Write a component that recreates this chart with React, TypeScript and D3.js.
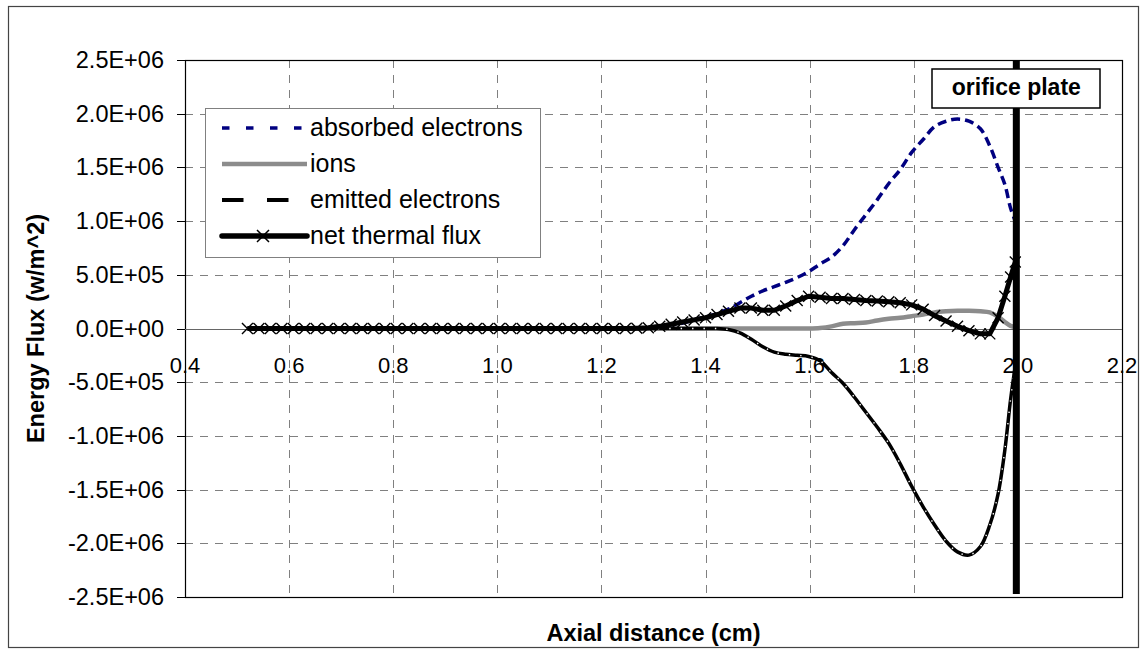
import React, { useRef, useEffect } from 'react';
import * as d3 from 'd3';

// axial positions (cm) of the computed points
const xCm = [
  0.520, 0.542, 0.564, 0.586, 0.608, 0.630, 0.652, 0.674, 0.696, 0.718,
  0.740, 0.762, 0.784, 0.806, 0.828, 0.850, 0.872, 0.894, 0.916, 0.938,
  0.960, 0.982, 1.004, 1.026, 1.048, 1.070, 1.092, 1.114, 1.136, 1.158,
  1.180, 1.202, 1.224, 1.246, 1.268, 1.290, 1.312, 1.334, 1.356, 1.378,
  1.400, 1.422, 1.444, 1.466, 1.488, 1.510, 1.532, 1.554, 1.576, 1.598,
  1.620, 1.642, 1.664, 1.686, 1.708, 1.730, 1.752, 1.774, 1.796, 1.818,
  1.840, 1.862, 1.884, 1.906, 1.928, 1.946, 1.962, 1.975, 1.986, 1.995,
];

// fluxes in units of 1E+06 w/m^2
const absorbedElectrons = [
  0, 0, 0, 0, 0, 0, 0, 0, 0, 0,
  0, 0, 0, 0, 0, 0, 0, 0, 0, 0,
  0, 0, 0, 0, 0, 0, 0, 0, 0, 0,
  0, 0, 0, 0, 0, 0, 0.01, 0.03, 0.05, 0.08,
  0.11, 0.14, 0.18, 0.24, 0.30, 0.35, 0.39, 0.43, 0.475, 0.53,
  0.60, 0.665, 0.77, 0.92, 1.06, 1.20, 1.35, 1.48, 1.64, 1.76,
  1.88, 1.93, 1.95, 1.93, 1.86, 1.70, 1.50, 1.34, 1.12, 1.0,
];

const ions = [
  0, 0, 0, 0, 0, 0, 0, 0, 0, 0,
  0, 0, 0, 0, 0, 0, 0, 0, 0, 0,
  0, 0, 0, 0, 0, 0, 0, 0, 0, 0,
  0, 0, 0, 0, 0, 0, 0, 0, 0, 0,
  0, 0, 0, 0, 0, 0, 0, 0, 0, 0,
  0.005, 0.02, 0.045, 0.05, 0.055, 0.075, 0.09, 0.10, 0.115, 0.13,
  0.15, 0.16, 0.165, 0.165, 0.16, 0.15, 0.11, 0.06, 0.025, 0.015,
];

const emittedElectrons = [
  0, 0, 0, 0, 0, 0, 0, 0, 0, 0,
  0, 0, 0, 0, 0, 0, 0, 0, 0, 0,
  0, 0, 0, 0, 0, 0, 0, 0, 0, 0,
  0, 0, 0, 0, 0, 0, 0, 0, 0, 0,
  0, 0, -0.01, -0.04, -0.10, -0.17, -0.22, -0.24, -0.25, -0.26,
  -0.30, -0.41, -0.51, -0.64, -0.78, -0.92, -1.07, -1.26, -1.47, -1.66,
  -1.83, -1.98, -2.08, -2.11, -2.03, -1.83, -1.54, -1.13, -0.66, -0.35,
];

const netThermalFlux = [
  0, 0, 0, 0, 0, 0, 0, 0, 0, 0,
  0, 0, 0, 0, 0, 0, 0, 0, 0, 0,
  0, 0, 0, 0, 0, 0, 0, 0, 0, 0,
  0, 0, 0, 0, 0.003, 0.008, 0.02, 0.04, 0.06, 0.08,
  0.10, 0.13, 0.16, 0.19, 0.19, 0.17, 0.17, 0.21, 0.26, 0.30,
  0.29, 0.28, 0.28, 0.27, 0.26, 0.255, 0.25, 0.24, 0.22, 0.18,
  0.12, 0.07, 0.02, -0.02, -0.05, -0.05, 0.10, 0.30, 0.48, 0.62,
];

const xTicks = [0.4, 0.6, 0.8, 1.0, 1.2, 1.4, 1.6, 1.8, 2.0, 2.2];
const xTickLabels = ['0.4', '0.6', '0.8', '1.0', '1.2', '1.4', '1.6', '1.8', '2.0', '2.2'];
const yTicks = [2.5, 2.0, 1.5, 1.0, 0.5, 0, -0.5, -1.0, -1.5, -2.0, -2.5];
const yTickLabels = [
  '2.5E+06', '2.0E+06', '1.5E+06', '1.0E+06', '5.0E+05', '0.0E+00',
  '-5.0E+05', '-1.0E+06', '-1.5E+06', '-2.0E+06', '-2.5E+06',
];
const legendNames = ['absorbed electrons', 'ions', 'emitted electrons', 'net thermal flux'];
const orificeX = 1.997;
const orificeLabel = 'orifice plate';

const FONT = '"Liberation Sans", Arial, sans-serif';

function EnergyFluxChart() {
  const chartRef = useRef<HTMLDivElement>(null);

  useEffect(() => {
    const width = 1143;
    const height = 651;
    const left = 185, right = 1122, top = 60, bottom = 597;

    const x = d3.scaleLinear().domain([0.4, 2.2]).range([left, right]);
    const y = d3.scaleLinear().domain([-2.5, 2.5]).range([bottom, top]);

    const svg = d3.select(chartRef.current)
      .append('svg')
      .attr('width', width)
      .attr('height', height)
      .style('display', 'block')
      .style('font-family', FONT);

    svg.append('rect')
      .attr('width', width).attr('height', height).attr('fill', '#fff');

    // outer chart frame
    svg.append('rect')
      .attr('x', 8.5).attr('y', 6.5)
      .attr('width', 1130).attr('height', 641)
      .attr('fill', 'none').attr('stroke', '#444').attr('stroke-width', 1.2);

    // grid
    svg.append('g').selectAll('line')
      .data(yTicks.filter((d) => d !== 2.5 && d !== -2.5 && d !== 0))
      .enter().append('line')
      .attr('x1', left).attr('x2', right)
      .attr('y1', (d) => Math.round(y(d)) + 0.5).attr('y2', (d) => Math.round(y(d)) + 0.5)
      .attr('stroke', '#808080').attr('stroke-dasharray', '8 7');

    svg.append('g').selectAll('line')
      .data(xTicks.filter((d) => d !== 0.4 && d !== 2.2))
      .enter().append('line')
      .attr('y1', top).attr('y2', bottom)
      .attr('x1', (d) => Math.round(x(d)) + 0.5).attr('x2', (d) => Math.round(x(d)) + 0.5)
      .attr('stroke', '#808080').attr('stroke-dasharray', '8 7');

    // plot border
    svg.append('rect')
      .attr('x', left + 0.5).attr('y', top + 0.5)
      .attr('width', right - left).attr('height', bottom - top)
      .attr('fill', 'none').attr('stroke', '#000').attr('stroke-width', 1.2);

    // y ticks
    svg.append('g').selectAll('line')
      .data(yTicks)
      .enter().append('line')
      .attr('x1', left - 8).attr('x2', left)
      .attr('y1', (d) => Math.round(y(d)) + 0.5).attr('y2', (d) => Math.round(y(d)) + 0.5)
      .attr('stroke', '#000');

    // zero axis
    svg.append('line')
      .attr('x1', left).attr('x2', right)
      .attr('y1', Math.round(y(0)) + 0.5).attr('y2', Math.round(y(0)) + 0.5)
      .attr('stroke', '#666');

    // y tick labels
    svg.append('g').selectAll('text')
      .data(yTicks)
      .enter().append('text')
      .attr('x', 164)
      .attr('y', (d) => y(d) + 8)
      .attr('text-anchor', 'end')
      .attr('font-size', 23.5)
      .text((d, i) => yTickLabels[i]);

    // x tick labels
    svg.append('g').selectAll('text')
      .data(xTicks)
      .enter().append('text')
      .attr('x', (d) => x(d))
      .attr('y', 373)
      .attr('text-anchor', 'middle')
      .attr('font-size', 22)
      .text((d, i) => xTickLabels[i]);

    const pts = (vals: number[]) => xCm.map((d, i) => [x(d), y(vals[i])] as [number, number]);
    const smooth = d3.line().curve(d3.curveCatmullRom.alpha(0.5));
    const straight = d3.line();

    const series = svg.append('g');

    series.append('path')
      .attr('d', smooth(pts(absorbedElectrons)))
      .attr('fill', 'none').attr('stroke', '#000080')
      .attr('stroke-width', 3.5).attr('stroke-dasharray', '9 5');

    series.append('path')
      .attr('d', smooth(pts(ions)))
      .attr('fill', 'none').attr('stroke', '#8c8c8c')
      .attr('stroke-width', 4.5);

    series.append('path')
      .attr('d', smooth(pts(emittedElectrons)))
      .attr('fill', 'none').attr('stroke', '#000')
      .attr('stroke-width', 3.5);
    series.append('path')
      .attr('d', smooth(pts(emittedElectrons)))
      .attr('fill', 'none').attr('stroke', '#fff')
      .attr('stroke-width', 1.4).attr('stroke-dasharray', '1.4 10');

    series.append('path')
      .attr('d', straight(pts(netThermalFlux)))
      .attr('fill', 'none').attr('stroke', '#000')
      .attr('stroke-width', 5).attr('stroke-linejoin', 'round');

    series.selectAll('.net-marker')
      .data(pts(netThermalFlux))
      .enter().append('path')
      .attr('class', 'net-marker')
      .attr('transform', (d) => `translate(${d[0]},${d[1]})`)
      .attr('d', 'M-5.5,-5.5L5.5,5.5M-5.5,5.5L5.5,-5.5')
      .attr('stroke', '#000').attr('stroke-width', 1.4);

    // orifice plate
    svg.append('line')
      .attr('x1', x(orificeX)).attr('x2', x(orificeX))
      .attr('y1', top).attr('y2', bottom - 3)
      .attr('stroke', '#000').attr('stroke-width', 7);

    svg.append('rect')
      .attr('x', 932).attr('y', 69)
      .attr('width', 168).attr('height', 39)
      .attr('fill', '#fff').attr('stroke', '#000').attr('stroke-width', 1.5);
    svg.append('text')
      .attr('x', x(orificeX)).attr('y', 95)
      .attr('text-anchor', 'middle')
      .attr('font-size', 23).attr('font-weight', 'bold')
      .text(orificeLabel);

    // legend
    const legend = svg.append('g');
    legend.append('rect')
      .attr('x', 205.5).attr('y', 108.5)
      .attr('width', 335).attr('height', 149)
      .attr('fill', '#fff').attr('stroke', '#808080');

    const rowY = (i: number) => 128 + i * 36;
    legend.append('line')
      .attr('x1', 222).attr('x2', 307).attr('y1', rowY(0)).attr('y2', rowY(0))
      .attr('stroke', '#000080').attr('stroke-width', 3.5).attr('stroke-dasharray', '7.5 16.5');
    legend.append('line')
      .attr('x1', 222).attr('x2', 307).attr('y1', rowY(1)).attr('y2', rowY(1))
      .attr('stroke', '#8c8c8c').attr('stroke-width', 4.5);
    legend.append('line')
      .attr('x1', 222).attr('x2', 307).attr('y1', rowY(2)).attr('y2', rowY(2))
      .attr('stroke', '#000').attr('stroke-width', 4).attr('stroke-dasharray', '21.5 23.5');
    legend.append('line')
      .attr('x1', 222).attr('x2', 307).attr('y1', rowY(3)).attr('y2', rowY(3))
      .attr('stroke', '#000').attr('stroke-width', 5.5).attr('stroke-linecap', 'round');
    legend.append('path')
      .attr('transform', `translate(263,${rowY(3)})`)
      .attr('d', 'M-6,-6L6,6M-6,6L6,-6')
      .attr('stroke', '#000').attr('stroke-width', 1.5);

    legend.selectAll('.legend-label')
      .data(legendNames)
      .enter().append('text')
      .attr('class', 'legend-label')
      .attr('x', 310)
      .attr('y', (d, i) => rowY(i) + 8)
      .attr('font-size', 25)
      .text((d) => d);

    // axis titles
    svg.append('text')
      .attr('x', (left + right) / 2)
      .attr('y', 641)
      .attr('text-anchor', 'middle')
      .attr('font-size', 23.5).attr('font-weight', 'bold')
      .text('Axial distance (cm)');

    svg.append('text')
      .attr('transform', `translate(44,${(top + bottom) / 2}) rotate(-90)`)
      .attr('text-anchor', 'middle')
      .attr('font-size', 23.5).attr('font-weight', 'bold')
      .text('Energy Flux (w/m^2)');

    return () => {
      svg.remove();
    };
  }, []);

  return (
    <div ref={chartRef} style={{ position: 'absolute', left: 0, top: 0 }} />
  );
}

export default EnergyFluxChart;
